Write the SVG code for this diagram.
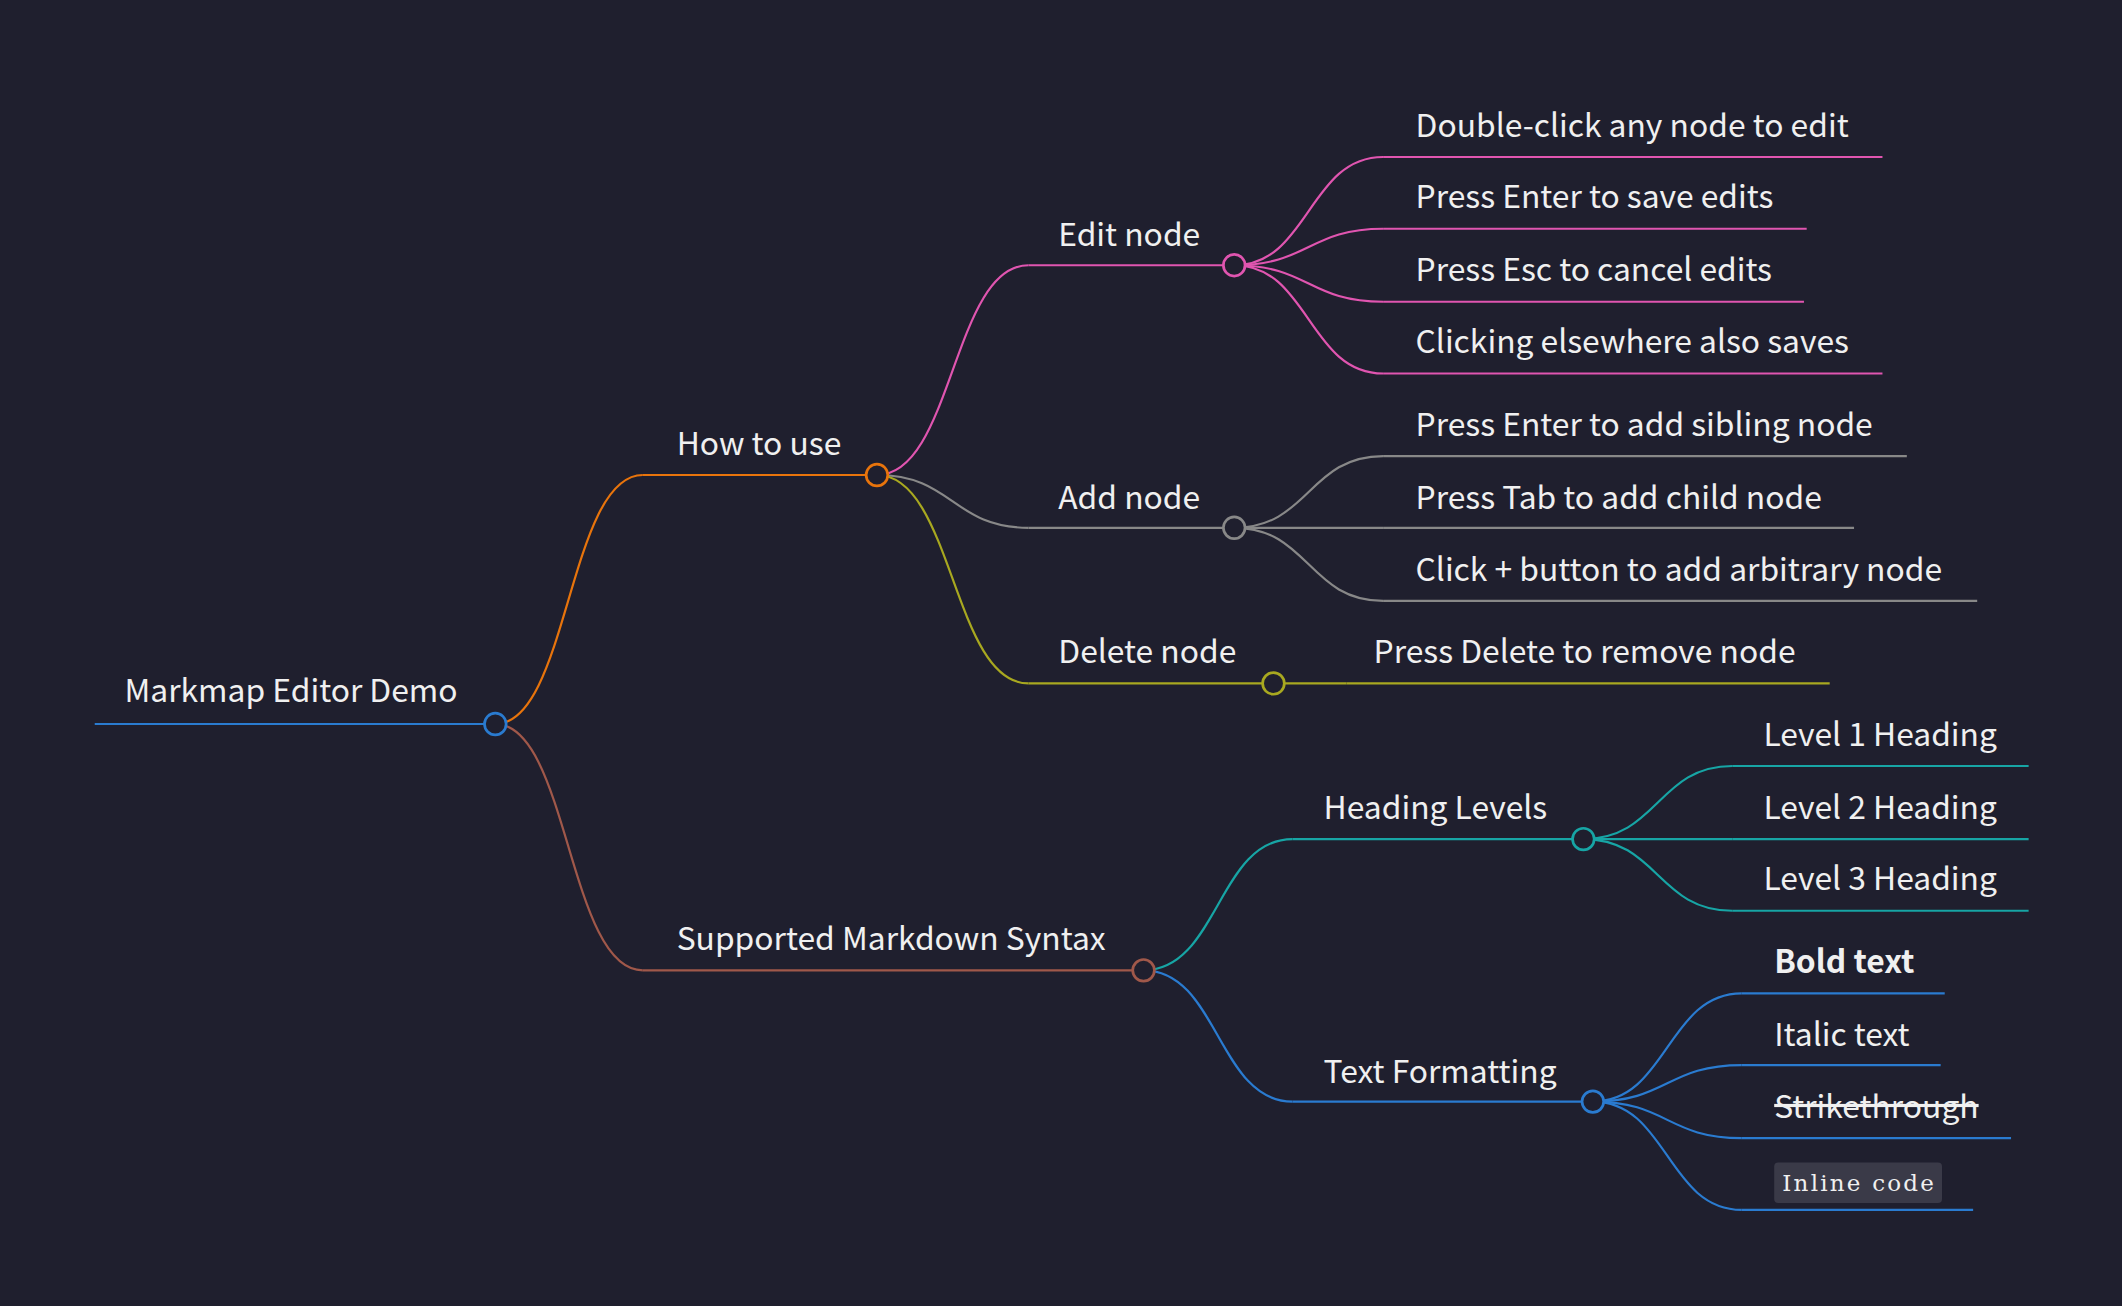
<svg xmlns="http://www.w3.org/2000/svg" width="2122" height="1306" viewBox="0 0 2122 1306">
<style>
text{font-family:"Noto Sans CJK SC","Noto Sans","Liberation Sans",sans-serif;font-size:23.5px;fill:#f0f0f0}
path,line{fill:none;stroke-width:1.6}
circle{fill:#1f1f2e;stroke-width:2}
.code{font-family:"DejaVu Serif","Liberation Serif",serif;font-size:17px}
</style>
<rect width="2122" height="1306" fill="#1f1f2e"/>
<g transform="scale(1.35332)">
<g id="connectors">
<path d="M366,535 C420,535 420,351 475,351" stroke="#e8740c" stroke-width="2"/>
<path d="M366,535 C420,535 420,717 475,717" stroke="#a0584a" stroke-width="2"/>
<path d="M648,351 C704,351 704,196 760,196" stroke="#e055b0"/>
<path d="M648,351 C704,351 704,390 760,390" stroke="#888"/>
<path d="M648,351 C704,351 704,505 760,505" stroke="#a8a820"/>
<path d="M912,196 C967,196 967,116 1022,116" stroke="#e055b0"/>
<path d="M912,196 C967,196 967,169 1022,169" stroke="#e055b0"/>
<path d="M912,196 C967,196 967,223 1022,223" stroke="#e055b0"/>
<path d="M912,196 C967,196 967,276 1022,276" stroke="#e055b0"/>
<path d="M912,390 C967,390 967,337 1022,337" stroke="#888"/>
<path d="M912,390 C967,390 967,390 1022,390" stroke="#888"/>
<path d="M912,390 C967,390 967,444 1022,444" stroke="#888"/>
<path d="M941,505 L995,505" stroke="#a8a820"/>
<path d="M845,717 C900,717 900,620 955,620" stroke="#17a5a5"/>
<path d="M845,717 C900,717 900,814 955,814" stroke="#2a7bd0"/>
<path d="M1170,620 C1225,620 1225,566 1280,566" stroke="#17a5a5"/>
<path d="M1170,620 L1280,620" stroke="#17a5a5"/>
<path d="M1170,620 C1225,620 1225,673 1280,673" stroke="#17a5a5"/>
<path d="M1177,814 C1232,814 1232,734 1287,734" stroke="#2a7bd0"/>
<path d="M1177,814 C1232,814 1232,787 1287,787" stroke="#2a7bd0"/>
<path d="M1177,814 C1232,814 1232,841 1287,841" stroke="#2a7bd0"/>
<path d="M1177,814 C1232,814 1232,894 1287,894" stroke="#2a7bd0"/>
</g>
<g id="root"><line x1="70" y1="535" x2="366" y2="535" stroke="#2a7bd0" stroke-width="3.2"/><circle cx="366" cy="535" r="8" stroke="#2a7bd0"/><text x="92" y="519">Markmap Editor Demo</text></g>
<g id="how"><line x1="475" y1="351" x2="648" y2="351" stroke="#e8740c" stroke-width="2"/><circle cx="648" cy="351" r="8" stroke="#e8740c"/><text x="500" y="336">How to use</text></g>
<g id="syntax"><line x1="475" y1="717" x2="845" y2="717" stroke="#a0584a" stroke-width="2"/><circle cx="845" cy="717" r="8" stroke="#a0584a"/><text x="500" y="702">Supported Markdown Syntax</text></g>
<g id="edit"><line x1="760" y1="196" x2="912" y2="196" stroke="#e055b0"/><circle cx="912" cy="196" r="8" stroke="#e055b0"/><text x="782" y="182">Edit node</text></g>
<g id="edit1"><line x1="1022" y1="116" x2="1391" y2="116" stroke="#e055b0"/><text x="1046" y="101">Double-click any node to edit</text></g>
<g id="edit2"><line x1="1022" y1="169" x2="1335" y2="169" stroke="#e055b0"/><text x="1046" y="154">Press Enter to save edits</text></g>
<g id="edit3"><line x1="1022" y1="223" x2="1333" y2="223" stroke="#e055b0"/><text x="1046" y="208">Press Esc to cancel edits</text></g>
<g id="edit4"><line x1="1022" y1="276" x2="1391" y2="276" stroke="#e055b0"/><text x="1046" y="261">Clicking elsewhere also saves</text></g>
<g id="add"><line x1="760" y1="390" x2="912" y2="390" stroke="#888"/><circle cx="912" cy="390" r="8" stroke="#888"/><text x="782" y="376">Add node</text></g>
<g id="add1"><line x1="1022" y1="337" x2="1409" y2="337" stroke="#888"/><text x="1046" y="322">Press Enter to add sibling node</text></g>
<g id="add2"><line x1="1022" y1="390" x2="1370" y2="390" stroke="#888"/><text x="1046" y="376">Press Tab to add child node</text></g>
<g id="add3"><line x1="1022" y1="444" x2="1461" y2="444" stroke="#888"/><text x="1046" y="429">Click + button to add arbitrary node</text></g>
<g id="del"><line x1="760" y1="505" x2="941" y2="505" stroke="#a8a820"/><circle cx="941" cy="505" r="8" stroke="#a8a820"/><text x="782" y="490">Delete node</text></g>
<g id="del1"><line x1="995" y1="505" x2="1352" y2="505" stroke="#a8a820"/><text x="1015" y="490">Press Delete to remove node</text></g>
<g id="head"><line x1="955" y1="620" x2="1170" y2="620" stroke="#17a5a5"/><circle cx="1170" cy="620" r="8" stroke="#17a5a5"/><text x="978" y="605">Heading Levels</text></g>
<g id="h1"><line x1="1280" y1="566" x2="1499" y2="566" stroke="#17a5a5"/><text x="1303" y="551">Level 1 Heading</text></g>
<g id="h2"><line x1="1280" y1="620" x2="1499" y2="620" stroke="#17a5a5"/><text x="1303" y="605">Level 2 Heading</text></g>
<g id="h3"><line x1="1280" y1="673" x2="1499" y2="673" stroke="#17a5a5"/><text x="1303" y="658">Level 3 Heading</text></g>
<g id="fmt"><line x1="955" y1="814" x2="1177" y2="814" stroke="#2a7bd0"/><circle cx="1177" cy="814" r="8" stroke="#2a7bd0"/><text x="978" y="800">Text Formatting</text></g>
<g id="f1"><line x1="1287" y1="734" x2="1437" y2="734" stroke="#2a7bd0"/><text x="1311" y="719" font-weight="bold">Bold text</text></g>
<g id="f2"><line x1="1287" y1="787" x2="1434" y2="787" stroke="#2a7bd0"/><text x="1311" y="773">Italic text</text></g>
<g id="f3"><line x1="1287" y1="841" x2="1486" y2="841" stroke="#2a7bd0"/><text x="1311" y="826" text-decoration="line-through">Strikethrough</text></g>
<g id="f4"><line x1="1287" y1="894" x2="1458" y2="894" stroke="#2a7bd0"/><rect x="1311" y="859" width="124" height="30" rx="3" fill="#3a3a48"/><text class="code" x="1317" y="880" textLength="112">Inline code</text></g>
</g>
</svg>
